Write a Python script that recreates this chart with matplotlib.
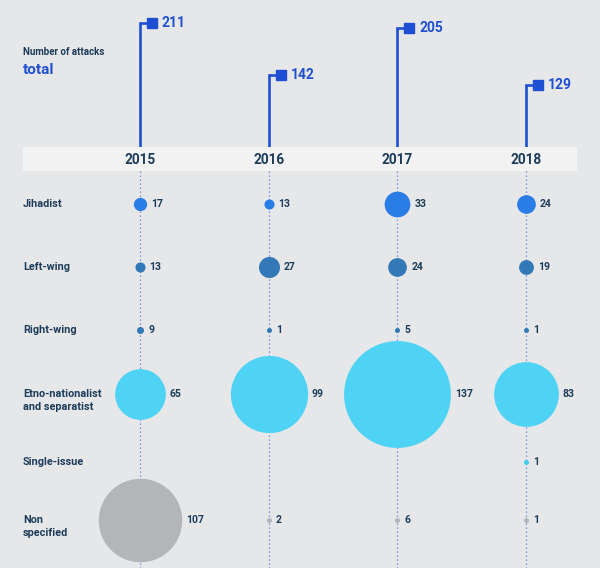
import matplotlib.pyplot as plt
import numpy as np

plt.rcParams['font.family'] = ['Roboto', 'DejaVu Sans']

years = ['2015', '2016', '2017', '2018']
totals = [211, 142, 205, 129]

categories = ['Jihadist', 'Left-wing', 'Right-wing',
              'Etno-nationalist\nand separatist', 'Single-issue', 'Non\nspecified']
jihadist = [17, 13, 33, 24]
left_wing = [13, 27, 24, 19]
right_wing = [9, 1, 5, 1]
etno = [65, 99, 137, 83]
single_issue = [0, 0, 0, 1]
non_specified = [107, 2, 6, 1]
series = [jihadist, left_wing, right_wing, etno, single_issue, non_specified]

colors = ['#2b7de6', '#3379b8', '#3379b8', '#4fd3f5', '#3fcbe8', '#b4b5b8']
bg = '#e6e7e9'
navy = '#1c3c5a'
blue = '#1f4fd2'

W, H = 600, 568
col0, dcol = 140, 128.67                   # year column layout (px)
row_px = [204, 267, 330, 394, 462, 520]    # category row layout (px)
head_top, head_bot = 147, 171

fig = plt.figure(figsize=(6, 5.68), dpi=100, facecolor=bg)

# ---- bubbles (y axis in pixels from top) ----
ax = fig.add_axes([0, 0, 1, (H - head_top) / H])
ax.set_facecolor(bg)
ax.set_xlim(-col0 / dcol, (W - col0) / dcol)
ax.set_ylim(H, head_top)
ax.axis('off')

ax.axhspan(head_top, head_bot, xmin=23 / W, xmax=577 / W, color='#f2f2f3', lw=0, zorder=0)
for i, yr in enumerate(years):
    ax.text(i, (head_top + head_bot) / 2 + 0.5, yr, ha='center', va='center',
            fontsize=9.8, fontweight='bold', color=navy)
    ax.plot([i, i], [head_bot, H], ls=(0, (1, 2.2)), lw=0.9,
            color='#5b7fe0', zorder=1)

px = 0.72  # points per pixel at 100 dpi
for j, (cat, vals) in enumerate(zip(categories, series)):
    y = row_px[j]
    nlines = cat.count('\n') + 1
    ax.annotate(cat, ((23 - col0) / dcol, y), xytext=(0, -6.5 * px * (nlines - 1)),
                textcoords='offset points', ha='left', va='center', fontsize=7.8,
                fontweight='bold', color=navy, linespacing=1.4)
    for i, v in enumerate(vals):
        if v <= 0:
            continue
        r = max(0.39 * v, 2.5)
        ax.scatter(i, y, s=(2 * r * px) ** 2, color=colors[j], lw=0, zorder=2)
        ax.annotate(str(v), (i, y), xytext=((r + 4.5) * px, 0),
                    textcoords='offset points', ha='left', va='center',
                    fontsize=7.5, fontweight='bold', color=navy)

# ---- totals ----
top = fig.add_axes([0, (H - head_top) / H, 1, head_top / H])
top.set_facecolor(bg)
top.set_xlim(ax.get_xlim())
base = 47.4
top.set_ylim(base, base + head_top / 0.758)
top.axis('off')
hook = 12 / dcol
for i, t in enumerate(totals):
    top.plot([i, i, i + hook], [base, t, t], color=blue, lw=1.9,
             solid_joinstyle='miter')
    top.plot(i + hook, t, 's', ms=7, color=blue)
    top.annotate(str(t), (i + hook, t), xytext=(7, 0), textcoords='offset points',
                 ha='left', va='center', fontsize=10, fontweight='bold', color=blue)

fig.text(23 / W, 1 - 52 / H, 'Number of attacks', ha='left', va='center',
         fontsize=7, fontweight='bold', color=navy)
fig.text(23 / W, 1 - 70 / H, 'total', ha='left', va='center',
         fontsize=11, fontweight='bold', color=blue)

fig.savefig('out.png', dpi=100, facecolor=bg)
